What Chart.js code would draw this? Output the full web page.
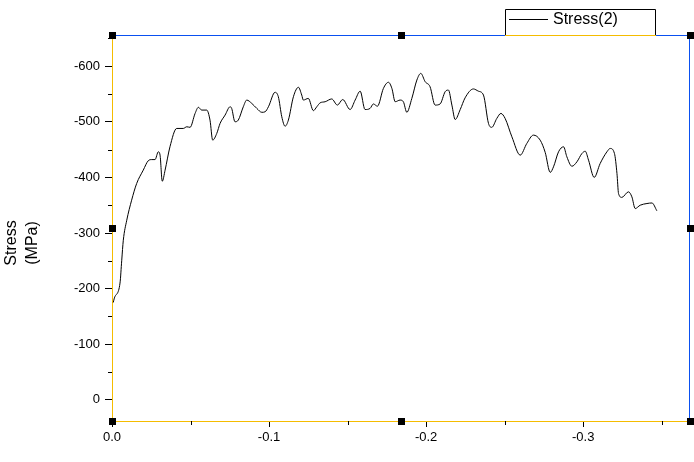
<!DOCTYPE html>
<html>
<head>
<meta charset="utf-8">
<script src="https://cdn.jsdelivr.net/npm/chart.js@4/dist/chart.umd.min.js"></script>
<style>
  html, body { margin: 0; padding: 0; background: #fff; }
  #wrap { width: 694px; height: 462px; position: relative; }
</style>
</head>
<body>
<div id="wrap"><canvas id="chart"></canvas></div>
<script>
// strain (x) and stress in MPa (y)
var strain = [
  -0.0008, -0.0015, -0.0051, -0.0062, -0.0072, -0.0094, -0.0125, -0.0157, -0.0199, -0.0231,
  -0.0253, -0.0274, -0.0295, -0.0306, -0.0320, -0.0338, -0.0369, -0.0412, -0.0454, -0.0476,
  -0.0497, -0.0529, -0.0550, -0.0571, -0.0603, -0.0624, -0.0641, -0.0667, -0.0688, -0.0720,
  -0.0752, -0.0762, -0.0783, -0.0804, -0.0836, -0.0858, -0.0890, -0.0922, -0.0954, -0.0975,
  -0.0996, -0.1038, -0.1059, -0.1081, -0.1102, -0.1123, -0.1155, -0.1187, -0.1208, -0.1218,
  -0.1250, -0.1282, -0.1304, -0.1325, -0.1357, -0.1399, -0.1435, -0.1469, -0.1516, -0.1548,
  -0.1580, -0.1611, -0.1643, -0.1664, -0.1690, -0.1728, -0.1760, -0.1782, -0.1803, -0.1834,
  -0.1855, -0.1877, -0.1909, -0.1941, -0.1966, -0.1994, -0.2025, -0.2057, -0.2089, -0.2121,
  -0.2142, -0.2164, -0.2185, -0.2217, -0.2248, -0.2301, -0.2333, -0.2365, -0.2397, -0.2418,
  -0.2450, -0.2476, -0.2503, -0.2546, -0.2599, -0.2641, -0.2683, -0.2726, -0.2758, -0.2790,
  -0.2811, -0.2843, -0.2875, -0.2896, -0.2928, -0.2960, -0.2992, -0.3013, -0.3034, -0.3070,
  -0.3108, -0.3151, -0.3172, -0.3199, -0.3215, -0.3225, -0.3246, -0.3288, -0.3310, -0.3331,
  -0.3363, -0.3406, -0.3438, -0.3469
];
var stress = [
  -175, -183, -210, -251, -287, -323, -359, -389, -413, -430,
  -432, -432, -446, -440, -393, -413, -455, -488, -488, -491,
  -490, -515, -526, -521, -521, -503, -467, -479, -497, -512,
  -527, -524, -500, -503, -527, -539, -533, -524, -517, -518,
  -527, -553, -545, -509, -492, -503, -545, -562, -548, -539,
  -542, -520, -527, -534, -536, -541, -530, -540, -522, -539,
  -555, -522, -524, -532, -528, -560, -571, -560, -536, -539,
  -536, -517, -542, -575, -587, -572, -563, -530, -532, -554,
  -557, -530, -504, -522, -543, -559, -555, -548, -497, -490,
  -506, -515, -506, -473, -440, -461, -476, -467, -445, -409,
  -419, -446, -455, -437, -420, -428, -443, -447, -431, -400,
  -425, -446, -452, -443, -407, -371, -364, -374, -365, -344,
  -350, -353, -354, -340
];
var xTicks = [0, -0.1, -0.2, -0.3];
var xMinorTicks = [-0.05, -0.15, -0.25, -0.35];
var yTicks = [-600, -500, -400, -300, -200, -100, 0];
var yMinorTicks = [-650, -550, -450, -350, -250, -150, -50];
var seriesName = 'Stress(2)';
var yTitle = ['Stress', '(MPa)'];

var points = strain.map(function (x, i) { return { x: x, y: stress[i] }; });

var FONT = '"Liberation Sans", Arial, sans-serif';
var BLUE = '#0a50f0';
var YELLOW = '#f5bc00';

// frame, minor ticks, legend box, axis title and the little selection handles
var decorations = {
  id: 'decorations',
  afterDraw: function (chart) {
    var ctx = chart.ctx;
    var a = chart.chartArea;
    var xs = chart.scales.x, ys = chart.scales.y;
    ctx.save();
    ctx.lineWidth = 1;

    // minor ticks
    ctx.strokeStyle = '#000';
    ctx.beginPath();
    xMinorTicks.forEach(function (v) {
      var px = Math.round(xs.getPixelForValue(v)) + 0.5;
      ctx.moveTo(px, a.bottom); ctx.lineTo(px, a.bottom + 4);
    });
    yMinorTicks.forEach(function (v) {
      var py = Math.round(ys.getPixelForValue(v)) + 0.5;
      ctx.moveTo(a.left - 4, py); ctx.lineTo(a.left, py);
    });
    ctx.stroke();

    // top and right lines
    ctx.strokeStyle = BLUE;
    ctx.beginPath();
    ctx.moveTo(a.left, a.top + 0.5); ctx.lineTo(a.right, a.top + 0.5);
    ctx.moveTo(a.right - 0.5, a.top); ctx.lineTo(a.right - 0.5, a.bottom);
    ctx.stroke();

    // legend box sitting on the top line
    var lx = 505, ly = 9, lw = 150, lh = 26;
    ctx.fillStyle = '#fff';
    ctx.fillRect(lx, ly, lw, lh);
    ctx.strokeStyle = '#000';
    ctx.beginPath();
    ctx.moveTo(lx + 0.5, a.top); ctx.lineTo(lx + 0.5, ly + 0.5);
    ctx.lineTo(lx + lw + 0.5, ly + 0.5); ctx.lineTo(lx + lw + 0.5, a.top);
    ctx.moveTo(lx + 4, ly + 10.5); ctx.lineTo(lx + 43, ly + 10.5);
    ctx.stroke();
    ctx.strokeStyle = YELLOW;
    ctx.beginPath();
    ctx.moveTo(lx, a.top + 0.5); ctx.lineTo(lx + lw + 1, a.top + 0.5);
    ctx.stroke();
    ctx.fillStyle = '#000';
    ctx.font = '16px ' + FONT;
    ctx.textBaseline = 'middle';
    ctx.textAlign = 'left';
    ctx.fillText(seriesName, lx + 48, ly + 11);

    // y axis title, two lines rotated
    ctx.save();
    ctx.translate(22, 243);
    ctx.rotate(-Math.PI / 2);
    ctx.font = '16px ' + FONT;
    ctx.textAlign = 'center';
    ctx.textBaseline = 'middle';
    ctx.fillText(yTitle[0], 0, -10);
    ctx.fillText(yTitle[1], 0, 11);
    ctx.restore();

    // selection handles
    var mx = Math.round((a.left + a.right) / 2), my = Math.round((a.top + a.bottom) / 2);
    var hs = [[a.left, a.top], [mx, a.top], [a.right, a.top], [a.left, my], [a.right, my],
              [a.left, a.bottom], [mx, a.bottom], [a.right, a.bottom]];
    ctx.fillStyle = '#000';
    hs.forEach(function (h) { ctx.fillRect(Math.round(h[0]) - 3, Math.round(h[1]) - 3, 7, 7); });
    ctx.restore();
  }
};

new Chart(document.getElementById('chart'), {
  type: 'line',
  data: {
    datasets: [{
      label: seriesName,
      data: points,
      borderColor: '#000',
      borderWidth: 1,
      pointRadius: 0,
      cubicInterpolationMode: 'monotone',
      fill: false,
    }],
  },
  options: {
    responsive: true,
    maintainAspectRatio: false,
    animation: false,
    layout: { padding: { left: 0, top: 35, right: 4, bottom: 0 } },
    plugins: {
      legend: { display: false },
      tooltip: { enabled: false },
    },
    scales: {
      x: {
        type: 'linear',
        min: -0.368,
        max: 0,
        reverse: true,
        afterFit: function (scale) { scale.height = 41; },
        afterBuildTicks: function (scale) {
          scale.ticks = xTicks.map(function (v) { return { value: v }; });
        },
        ticks: {
          color: '#000',
          font: { family: FONT, size: 13 },
          padding: 3,
          maxRotation: 0,
          callback: function (v) { return v.toFixed(1); },
        },
        grid: { drawOnChartArea: false, drawTicks: true, tickLength: 6, color: '#000' },
        border: { display: true, color: YELLOW, width: 1 },
      },
      y: {
        type: 'linear',
        min: -656,
        max: 38,
        reverse: true,
        afterFit: function (scale) { scale.width = 112; },
        afterBuildTicks: function (scale) {
          scale.ticks = yTicks.map(function (v) { return { value: v }; });
        },
        ticks: {
          color: '#000',
          font: { family: FONT, size: 13 },
          padding: 5,
          callback: function (v) { return String(v); },
        },
        grid: { drawOnChartArea: false, drawTicks: true, tickLength: 7, color: '#000' },
        border: { display: true, color: YELLOW, width: 1 },
      },
    },
  },
  plugins: [decorations],
});
</script>
</body>
</html>
